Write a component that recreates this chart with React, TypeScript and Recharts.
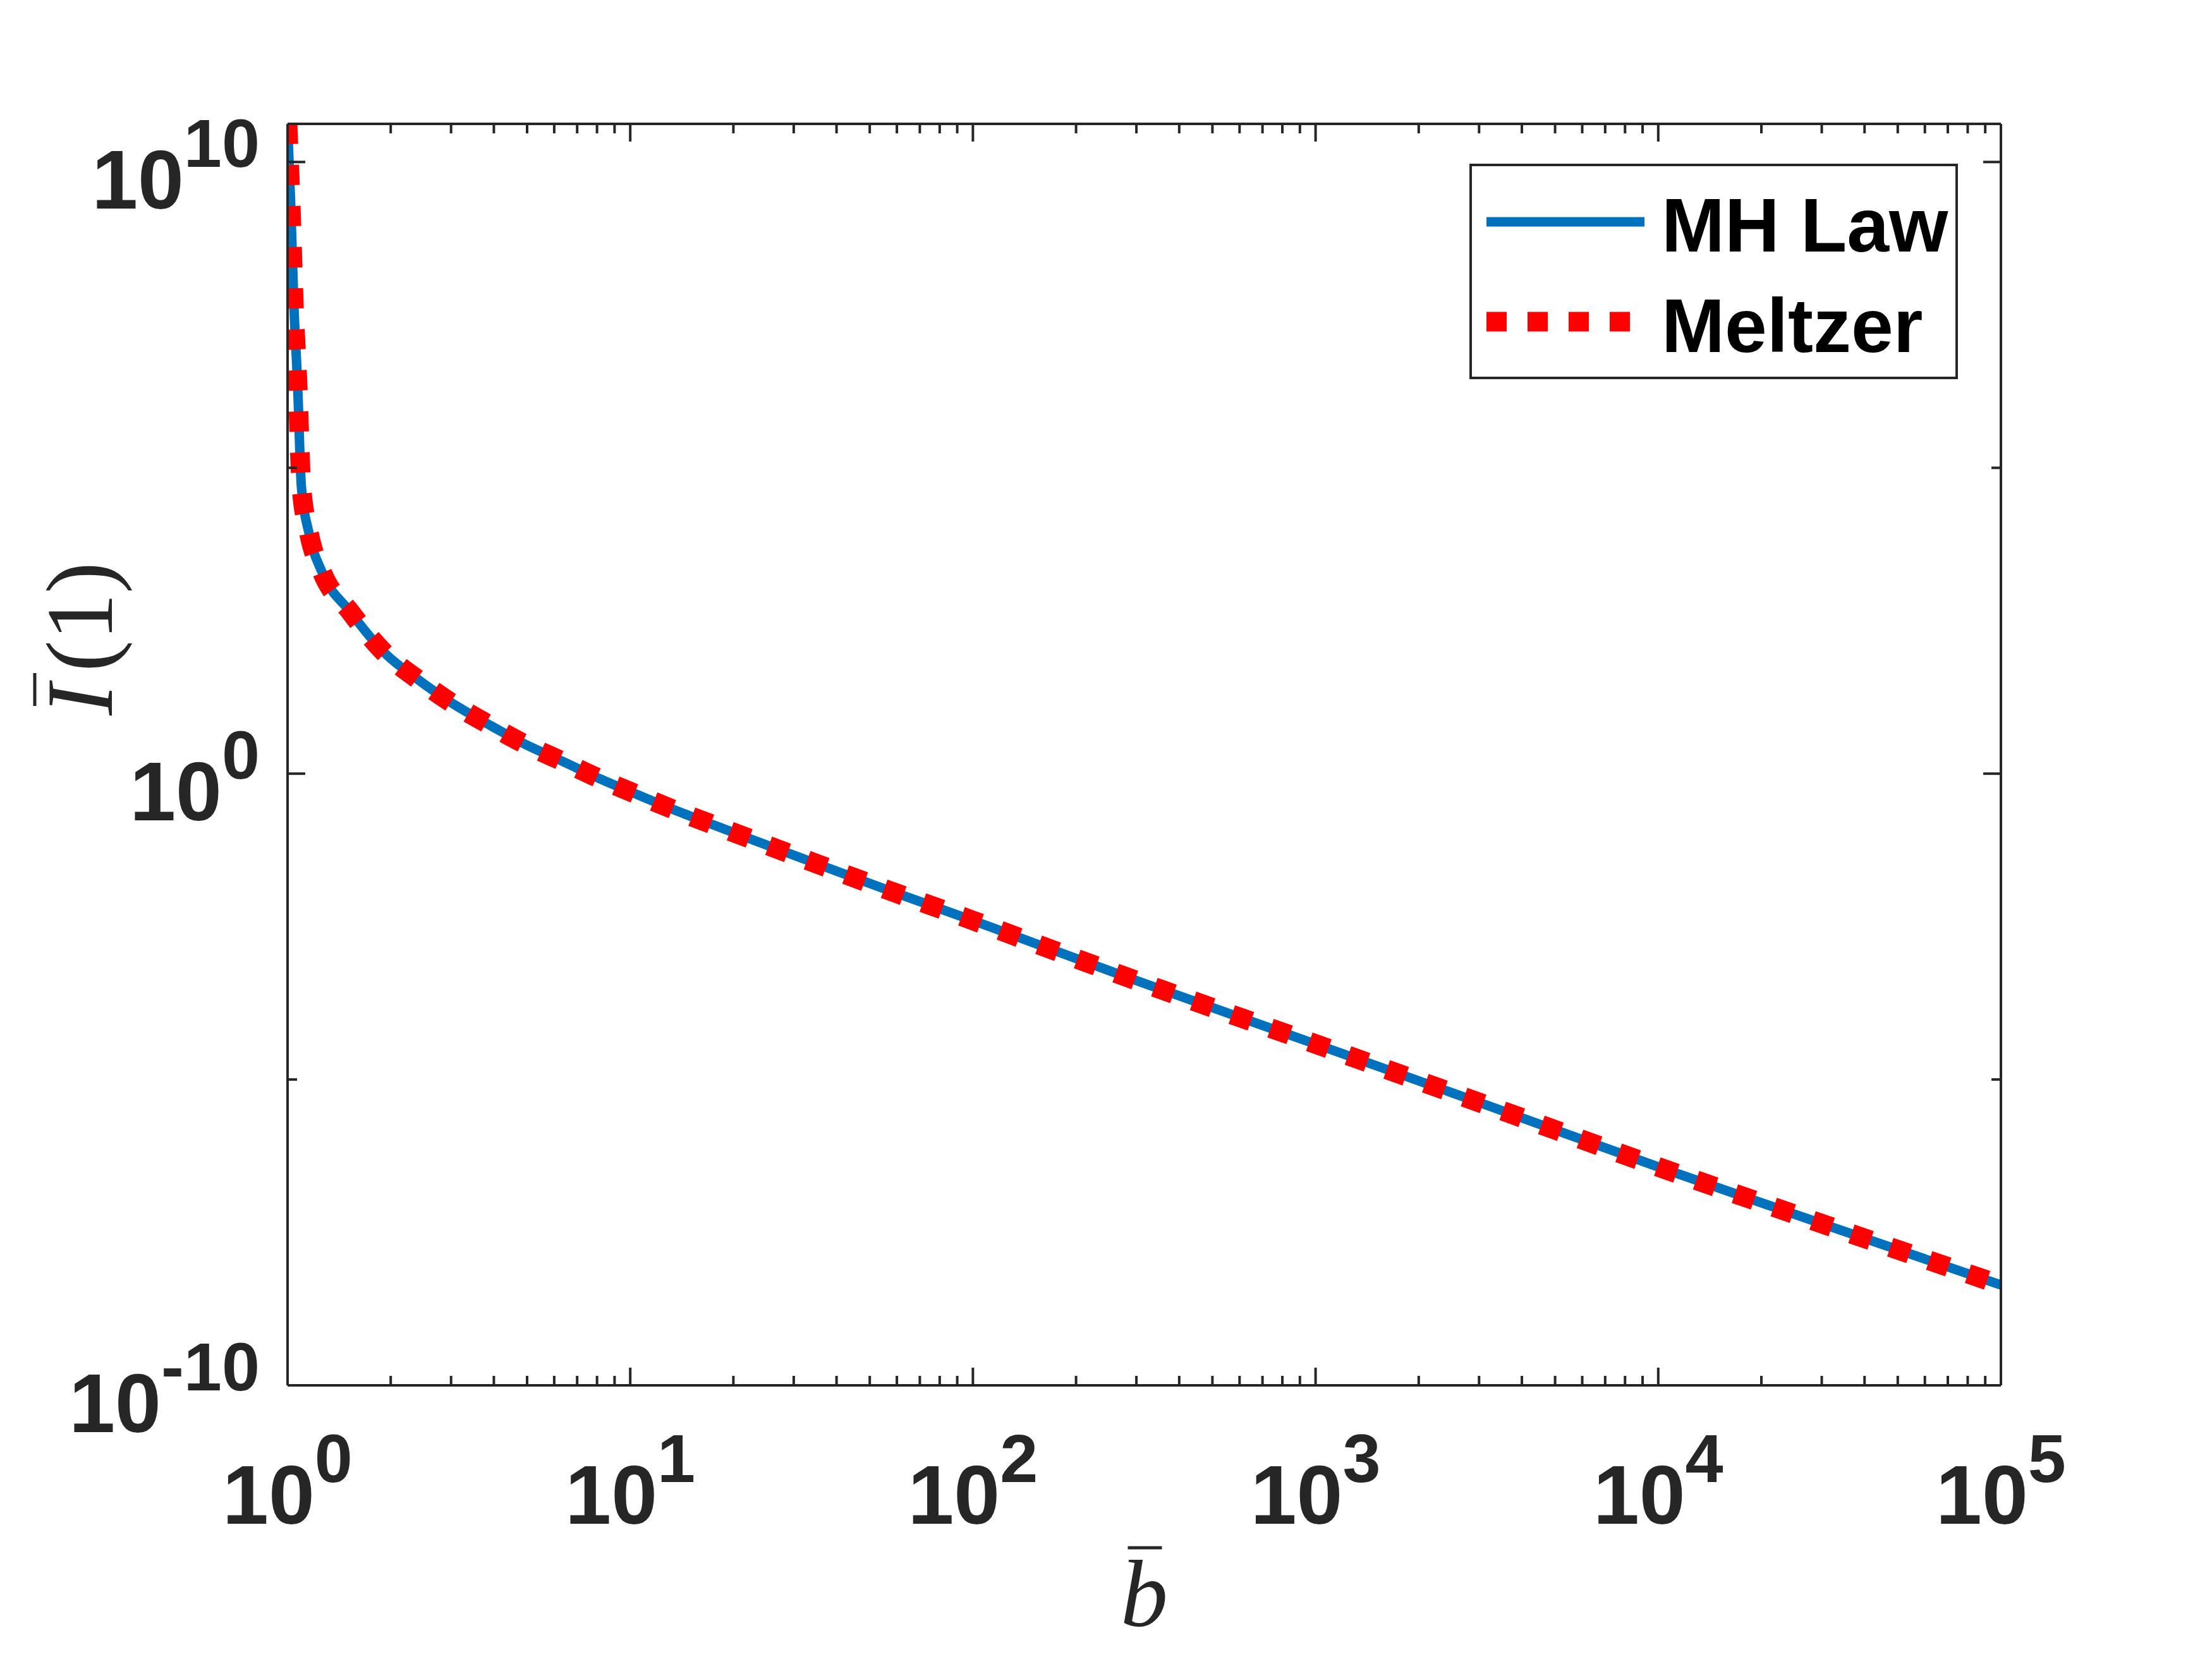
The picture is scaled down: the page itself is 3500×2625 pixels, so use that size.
import React from 'react'
import { LineChart, Line, XAxis, YAxis, Legend } from 'recharts'

// b-bar values
const bBar = [
  1, 1.0214, 1.0435, 1.074, 1.0839, 1.0965, 1.1561, 1.2618, 1.5171, 1.9231,
  2.3878, 3.0269, 3.8459, 4.8978, 6.3533, 8.1283, 10.568, 13.709, 17.742, 23.014,
  31.62, 56.23, 100, 145.9, 316.2, 1000, 3162, 10000, 31623, 100000,
]

// I-bar(1), MH law
const mhLaw = [
  4.17e10, 2.0e9, 4.57e7, 1.29e6, 2.51e5, 5.25e4, 8.32e3, 1950, 457, 93.3,
  35.5, 14.1, 6.46, 3.09, 1.585, 0.832, 0.447, 0.245, 0.141, 0.0813,
  0.0417, 0.0126, 3.98e-3, 1.82e-3, 3.72e-4, 3.8e-5, 3.8e-6, 3.72e-7, 3.98e-8, 4.37e-9,
]

// Meltzer, lies on top of the MH law curve
const meltzer = [
  4.17e10, 2.0e9, 4.57e7, 1.29e6, 2.51e5, 5.25e4, 8.32e3, 1950, 457, 93.3,
  35.5, 14.1, 6.46, 3.09, 1.585, 0.832, 0.447, 0.245, 0.141, 0.0813,
  0.0417, 0.0126, 3.98e-3, 1.82e-3, 3.72e-4, 3.8e-5, 3.8e-6, 3.72e-7, 3.98e-8, 4.37e-9,
]

const xMajor = [1, 10, 100, 1000, 10000, 100000]
const xTicks = [
  1, 2, 3, 4, 5, 6, 7, 8, 9,
  10, 20, 30, 40, 50, 60, 70, 80, 90,
  100, 200, 300, 400, 500, 600, 700, 800, 900,
  1000, 2000, 3000, 4000, 5000, 6000, 7000, 8000, 9000,
  10000, 20000, 30000, 40000, 50000, 60000, 70000, 80000, 90000,
  100000,
]
const yMajor = [1e-10, 1, 1e10]
const yTicks = [1e-10, 1e-5, 1, 1e5, 1e10]

const SERIES = [
  { key: 'mh', name: 'MH Law', color: '#0072BD', width: 15, dash: undefined as string | undefined },
  { key: 'meltzer', name: 'Meltzer', color: '#FF0000', width: 31, dash: '32 33' },
]

const AX = '#262626'
const TICK_FONT = '"Liberation Sans", Arial, sans-serif'
const MATH_FONT = '"Liberation Serif", "Times New Roman", serif'
const MAJOR = 28
const MINOR = 15

const data = bBar.map((b, i) => ({ b, mh: mhLaw[i], meltzer: meltzer[i] }))

const isMajor = (list: number[], v: number) => list.some((m) => Math.abs(m - v) / m < 1e-9)
const expOf = (v: number) => String(Math.round(Math.log10(v)))

function PowerLabel({ x, y, v, anchor }: { x: number; y: number; v: number; anchor: string }) {
  return (
    <text x={x} y={y} textAnchor={anchor} fontFamily={TICK_FONT} fontWeight="bold" fill={AX}>
      <tspan fontSize={131}>10</tspan>
      <tspan fontSize={108} dy={-66}>{expOf(v)}</tspan>
    </text>
  )
}

function BottomTick(p: any) {
  const v = p.payload.value
  const major = isMajor(xMajor, v)
  return (
    <g>
      <line x1={p.x} y1={p.y} x2={p.x} y2={p.y - (major ? MAJOR : MINOR)} stroke={AX} strokeWidth={4} />
      {major && <PowerLabel x={p.x} y={p.y + 219} v={v} anchor="middle" />}
    </g>
  )
}

function TopTick(p: any) {
  const major = isMajor(xMajor, p.payload.value)
  return <line x1={p.x} y1={p.y} x2={p.x} y2={p.y + (major ? MAJOR : MINOR)} stroke={AX} strokeWidth={4} />
}

function LeftTick(p: any) {
  const v = p.payload.value
  const major = isMajor(yMajor, v)
  return (
    <g>
      <line x1={p.x} y1={p.y} x2={p.x + (major ? MAJOR : MINOR)} y2={p.y} stroke={AX} strokeWidth={4} />
      {major && <PowerLabel x={p.x - 44} y={p.y + 74} v={v} anchor="end" />}
    </g>
  )
}

function RightTick(p: any) {
  const major = isMajor(yMajor, p.payload.value)
  return <line x1={p.x} y1={p.y} x2={p.x - (major ? MAJOR : MINOR)} y2={p.y} stroke={AX} strokeWidth={4} />
}

function XTitle(p: any) {
  const vb = p.viewBox || { x: 447, y: 2184, width: 2711, height: 60 }
  const cx = vb.x + vb.width / 2
  return (
    <g>
      <line x1={cx - 26} x2={cx + 28} y1={vb.y + 257} y2={vb.y + 257} stroke={AX} strokeWidth={5} />
      <text x={cx} y={vb.y + 381} textAnchor="middle" fontFamily={MATH_FONT} fontStyle="italic" fontSize={150} fill={AX}>
        b
      </text>
    </g>
  )
}

function YTitle(p: any) {
  const vb = p.viewBox || { x: 327, y: 188, width: 120, height: 1996 }
  const tx = vb.x - 158
  const ty = vb.y + 824
  const glyph = { fontFamily: MATH_FONT, fontSize: 150, fill: AX, textAnchor: 'middle' as const }
  return (
    <g transform={`translate(${tx},${ty}) rotate(-90)`}>
      <line x1={-97} x2={-45} y1={-122} y2={-122} stroke={AX} strokeWidth={5} />
      <text x={-87} y={0} fontStyle="italic" {...glyph}>I</text>
      <text x={-18} y={0} {...glyph}>(</text>
      <text x={44} y={0} {...glyph}>1</text>
      <text x={106} y={0} {...glyph}>)</text>
    </g>
  )
}

function LegendBox(props: any) {
  const entries = (props.payload || []).map((e: any) => SERIES.find((s) => s.key === e.dataKey) || SERIES[0])
  const rows = [
    { y: 92, end: 277, base: 139 },
    { y: 250, end: 258, base: 298 },
  ]
  return (
    <svg width={773} height={341} style={{ display: 'block' }}>
      <rect x={2} y={2} width={769} height={337} fill="#fff" stroke={AX} strokeWidth={4} />
      {entries.map((s: any, i: number) => (
        <g key={s.key}>
          <line x1={27} x2={rows[i].end} y1={rows[i].y} y2={rows[i].y} stroke={s.color}
            strokeWidth={s.width} strokeDasharray={s.dash} />
          <text x={304} y={rows[i].base} fontFamily={TICK_FONT} fontWeight="bold" fontSize={120} fill="#000">
            {s.name}
          </text>
        </g>
      ))}
    </svg>
  )
}

export default function App() {
  const axisLine = { stroke: AX, strokeWidth: 4 }
  return (
    <div style={{ width: 3484, height: 2609, background: '#fff' }}>
      <LineChart width={3484} height={2609} data={data} margin={{ top: 158, right: 266, bottom: 365, left: 327 }}>
        <XAxis dataKey="b" type="number" scale="log" domain={[1, 100000]} allowDataOverflow
          ticks={xTicks} interval={0} tickSize={0} tickMargin={0} tickLine={false} axisLine={axisLine}
          height={60} tick={(p: any) => <BottomTick {...p} />} label={(p: any) => <XTitle {...p} />} />
        <XAxis xAxisId="top" orientation="top" dataKey="b" type="number" scale="log" domain={[1, 100000]}
          allowDataOverflow ticks={xTicks} interval={0} tickSize={0} tickMargin={0} tickLine={false}
          axisLine={axisLine} height={30} tick={(p: any) => <TopTick {...p} />} />
        <YAxis type="number" scale="log" domain={[1e-10, 4.2e10]} allowDataOverflow ticks={yTicks}
          interval={0} tickSize={0} tickMargin={0} tickLine={false} axisLine={axisLine} width={120}
          tick={(p: any) => <LeftTick {...p} />} label={(p: any) => <YTitle {...p} />} />
        <YAxis yAxisId="right" orientation="right" type="number" scale="log" domain={[1e-10, 4.2e10]}
          allowDataOverflow ticks={yTicks} interval={0} tickSize={0} tickMargin={0} tickLine={false}
          axisLine={axisLine} width={60} tick={(p: any) => <RightTick {...p} />} />
        <Legend layout="horizontal" verticalAlign="middle" align="center" content={(p: any) => <LegendBox {...p} />}
          wrapperStyle={{ position: 'absolute', left: 2317, top: 251, width: 773, height: 341 }} />
        {SERIES.map((s) => (
          <Line key={s.key} dataKey={s.key} name={s.name} type="monotone" stroke={s.color}
            strokeWidth={s.width} strokeDasharray={s.dash} strokeLinecap="butt" dot={false}
            activeDot={false} isAnimationActive={false} />
        ))}
      </LineChart>
    </div>
  )
}
